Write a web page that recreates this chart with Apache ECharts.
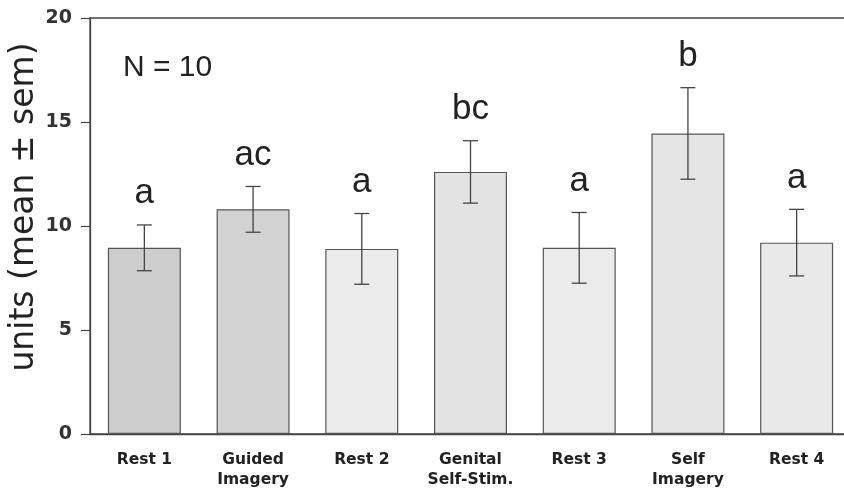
<!DOCTYPE html>
<html><head><meta charset="utf-8">
<script src="https://cdn.jsdelivr.net/npm/echarts@6/dist/echarts.min.js"></script>
<style>html,body{margin:0;padding:0;background:#fff}#c{width:844px;height:493px}</style>
</head><body><div id="c"></div>
<script>
const categories = ['Rest 1', 'Guided\nImagery', 'Rest 2', 'Genital\nSelf-Stim.', 'Rest 3', 'Self\nImagery', 'Rest 4'];
const means = [8.95, 10.8, 8.9, 12.6, 8.95, 14.45, 9.2];
const sems = [1.1, 1.1, 1.7, 1.5, 1.7, 2.2, 1.6];
const letters = ['a', 'ac', 'a', 'bc', 'a', 'b', 'a'];
const barColors = ['#cdcdcd', '#d2d2d2', '#ececec', '#e3e3e3', '#ebebeb', '#e5e5e5', '#e9e9e9'];
const yMin = 0, yMax = 20, yStep = 5;

const chart = echarts.init(document.getElementById('c'), null, {renderer: 'canvas'});
const axisColor = '#444';
chart.setOption({
  backgroundColor: '#fff',
  animation: false,
  grid: {left: 90, width: 761, top: 18, height: 416, show: true, borderColor: axisColor, borderWidth: 1.3, backgroundColor: 'transparent', containLabel: false, outerBoundsMode: 'none'},
  xAxis: {
    type: 'category', data: categories,
    axisLine: {lineStyle: {color: axisColor, width: 1.3}},
    axisTick: {alignWithLabel: true, length: 8, lineStyle: {color: axisColor, width: 1.2}},
    axisLabel: {color: '#222', fontFamily: 'DejaVu Sans', fontWeight: 'bold', fontSize: 15.5, lineHeight: 20, margin: 16, interval: 0}
  },
  yAxis: {
    type: 'value', min: yMin, max: yMax, interval: yStep,
    splitLine: {show: false},
    axisLine: {show: true, lineStyle: {color: axisColor, width: 1.3}},
    axisTick: {show: true, length: 9, lineStyle: {color: axisColor, width: 1.2}},
    axisLabel: {color: '#333', fontFamily: 'DejaVu Sans', fontWeight: 'bold', fontSize: 19, margin: 18}
  },
  graphic: [
    {type: 'text', left: 123, top: 53, style: {text: 'N = 10', font: '30px "Liberation Sans"', fill: '#222'}},
    {type: 'text', x: 24, y: 207, rotation: Math.PI / 2,
     style: {text: 'units (mean \u00b1 sem)', font: '33px "DejaVu Sans"', fill: '#222', align: 'center', verticalAlign: 'middle'}}
  ],
  series: [
    {
      type: 'bar', barWidth: 73,
      data: means.map((m, i) => ({value: m, itemStyle: {color: barColors[i]}})),
      itemStyle: {borderColor: '#555', borderWidth: 1.2}
    },
    {
      type: 'custom', z: 5,
      data: means.map((m, i) => [i, m, sems[i]]),
      renderItem: function (params, api) {
        const i = api.value(0), m = api.value(1), s = api.value(2);
        const top = api.coord([i, m + s]);
        const bot = api.coord([i, m - s]);
        const x = top[0], hw = 7.5;
        const st = {stroke: '#444', lineWidth: 1.3};
        return {type: 'group', children: [
          {type: 'line', shape: {x1: x, y1: top[1], x2: x, y2: bot[1]}, style: st},
          {type: 'line', shape: {x1: x - hw, y1: top[1], x2: x + hw, y2: top[1]}, style: st},
          {type: 'line', shape: {x1: x - hw, y1: bot[1], x2: x + hw, y2: bot[1]}, style: st},
          {type: 'text', x: x, y: top[1] - 14, style: {text: letters[i], font: '35px "Liberation Sans"', fill: '#222', align: 'center', verticalAlign: 'bottom'}}
        ]};
      }
    }
  ]
});
</script></body></html>
